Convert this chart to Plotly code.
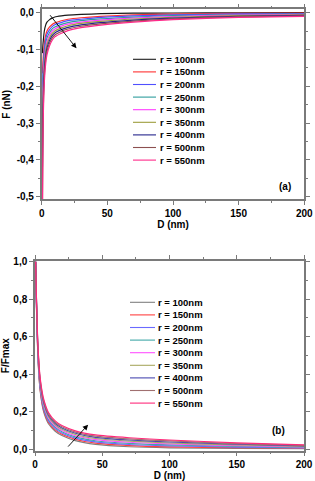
import plotly.graph_objects as go

# ---------------- data ----------------
D = [0.5, 1, 2, 3, 4, 6, 8, 10, 15, 20, 30, 45, 70, 100, 150, 200]

labels = ["r = 100nm", "r = 150nm", "r = 200nm", "r = 250nm", "r = 300nm",
          "r = 350nm", "r = 400nm", "r = 500nm", "r = 550nm"]

# panel (a): F (nN)
F_100 = [-0.11, -0.085, -0.05, -0.034, -0.026, -0.019, -0.015, -0.012, -0.009, -0.007, -0.005, -0.003, -0.0015, -0.001, -0.0004, -0.0001]
F_150 = [-0.165, -0.13, -0.085, -0.062, -0.050, -0.039, -0.032, -0.028, -0.022, -0.018, -0.014, -0.010, -0.006, -0.004, -0.002, -0.0012]
F_200 = [-0.22, -0.16, -0.100, -0.073, -0.059, -0.046, -0.038, -0.033, -0.027, -0.022, -0.018, -0.013, -0.009, -0.006, -0.0036, -0.0025]
F_250 = [-0.275, -0.187, -0.115, -0.084, -0.069, -0.054, -0.044, -0.039, -0.032, -0.027, -0.022, -0.017, -0.012, -0.0083, -0.0051, -0.0037]
F_300 = [-0.33, -0.216, -0.130, -0.0955, -0.078, -0.061, -0.0505, -0.0443, -0.0366, -0.0313, -0.0256, -0.0203, -0.0146, -0.0105, -0.0067, -0.005]
F_350 = [-0.385, -0.244, -0.145, -0.1065, -0.087, -0.068, -0.0565, -0.0497, -0.0414, -0.0357, -0.0294, -0.0237, -0.0174, -0.0126, -0.0083, -0.0062]
F_400 = [-0.44, -0.273, -0.160, -0.1177, -0.0964, -0.0754, -0.0627, -0.0551, -0.0463, -0.0401, -0.0333, -0.0271, -0.0203, -0.0147, -0.0099, -0.0075]
F_500 = [-0.55, -0.301, -0.175, -0.1288, -0.1057, -0.0827, -0.0688, -0.0606, -0.0511, -0.0446, -0.0371, -0.0306, -0.0231, -0.0169, -0.0114, -0.0087]
F_550 = [-0.60, -0.33, -0.19, -0.14, -0.115, -0.090, -0.075, -0.066, -0.056, -0.049, -0.041, -0.034, -0.026, -0.019, -0.013, -0.010]

# panel (b): F/Fmax
N_100 = [1.0, 0.78, 0.52, 0.38, 0.30, 0.21, 0.165, 0.135, 0.095, 0.072, 0.045, 0.025, 0.012, 0.006, 0.003, 0.0015]
N_150 = [1.0, 0.786, 0.528, 0.389, 0.309, 0.219, 0.173, 0.143, 0.102, 0.079, 0.052, 0.031, 0.018, 0.011, 0.007, 0.004]
N_200 = [1.0, 0.793, 0.535, 0.398, 0.318, 0.228, 0.181, 0.150, 0.109, 0.085, 0.058, 0.038, 0.024, 0.017, 0.0105, 0.0066]
N_250 = [1.0, 0.799, 0.543, 0.406, 0.326, 0.236, 0.189, 0.158, 0.116, 0.092, 0.0645, 0.044, 0.030, 0.022, 0.014, 0.0092]
N_300 = [1.0, 0.805, 0.55, 0.415, 0.335, 0.245, 0.198, 0.165, 0.1225, 0.0985, 0.071, 0.050, 0.036, 0.027, 0.018, 0.0118]
N_350 = [1.0, 0.811, 0.558, 0.424, 0.344, 0.254, 0.206, 0.173, 0.129, 0.105, 0.0775, 0.056, 0.042, 0.032, 0.0218, 0.0143]
N_400 = [1.0, 0.818, 0.565, 0.4325, 0.3525, 0.2625, 0.214, 0.18, 0.136, 0.112, 0.084, 0.0625, 0.048, 0.0375, 0.0255, 0.0169]
N_500 = [1.0, 0.824, 0.5725, 0.441, 0.361, 0.271, 0.222, 0.1875, 0.143, 0.1184, 0.0905, 0.069, 0.054, 0.043, 0.029, 0.0194]
N_550 = [1.0, 0.83, 0.58, 0.45, 0.37, 0.28, 0.23, 0.195, 0.15, 0.125, 0.097, 0.075, 0.060, 0.048, 0.033, 0.022]

x_ticks = [0, 50, 100, 150, 200]
x_ticklabels = ["0", "50", "100", "150", "200"]
y1_ticks = [0.0, -0.1, -0.2, -0.3, -0.4, -0.5]
y1_ticklabels = ["0,0", "-0,1", "-0,2", "-0,3", "-0,4", "-0,5"]
y2_ticks = [0.0, 0.2, 0.4, 0.6, 0.8, 1.0]
y2_ticklabels = ["0,0", "0,2", "0,4", "0,6", "0,8", "1,0"]

# ---------------- styling ----------------
W, H = 315, 481
FONT = "Liberation Sans, Arial, sans-serif"
colors_a = ["#1a1a1a", "#ff3030", "#5050ff", "#2e9c9c", "#ff3cff",
            "#9c9c3c", "#24248c", "#8c5050", "#ff2a8a"]
colors_b = ["#808080", "#ff4040", "#6a6aff", "#40a8a8", "#ff50ff",
            "#a8a860", "#4848b0", "#a07070", "#ff2a7a"]

def px(x):
    return x / W

def py(y):
    return 1 - y / H

series_a = [F_100, F_150, F_200, F_250, F_300, F_350, F_400, F_500, F_550]
series_b = [N_100, N_150, N_200, N_250, N_300, N_350, N_400, N_500, N_550]

fig = go.Figure()
for s, c in zip(series_a, colors_a):
    fig.add_trace(go.Scatter(x=D, y=s, mode="lines", line=dict(color=c, width=1.2, shape="spline", smoothing=0.6),
                             xaxis="x", yaxis="y", showlegend=False))
for s, c in zip(series_b, colors_b):
    fig.add_trace(go.Scatter(x=D, y=s, mode="lines", line=dict(color=c, width=1.2, shape="spline", smoothing=0.6),
                             xaxis="x2", yaxis="y2", showlegend=False))

tickfont = dict(family=FONT, size=10, color="black", weight="bold")
titlefont = dict(family=FONT, size=10, color="black", weight="bold")
frame = dict(showline=True, linecolor="#7a7a7a", linewidth=1.5, mirror="ticks",
             ticks="outside", ticklen=4, tickwidth=1, tickcolor="#7a7a7a",
             showgrid=False, zeroline=False, automargin=False, tickfont=tickfont)

fig.update_layout(
    width=W, height=H,
    margin=dict(l=0, r=0, t=0, b=0),
    paper_bgcolor="white", plot_bgcolor="white",
    showlegend=False,
    xaxis=dict(domain=[px(41.7), px(304.3)], range=[0, 200], anchor="y",
               tickvals=x_ticks, ticktext=x_ticklabels,
               minor=dict(ticks="outside", ticklen=2, tickcolor="#7a7a7a", dtick=25, tick0=0),
               title=dict(text="D (nm)", font=titlefont, standoff=2), **frame),
    yaxis=dict(domain=[py(199.3), py(9.3)], range=[-0.507, 0.009], anchor="x",
               tickvals=y1_ticks, ticktext=y1_ticklabels,
               minor=dict(ticks="outside", ticklen=2, tickcolor="#7a7a7a", dtick=0.05, tick0=0),
               title=dict(text="F (nN)", font=titlefont, standoff=4), **frame),
    xaxis2=dict(domain=[px(35), px(304)], range=[0, 200], anchor="y2",
                tickvals=x_ticks, ticktext=x_ticklabels,
                minor=dict(ticks="outside", ticklen=2, tickcolor="#7a7a7a", dtick=25, tick0=0),
                title=dict(text="D (nm)", font=titlefont, standoff=2), **frame),
    yaxis2=dict(domain=[py(450.7), py(260.7)], range=[-0.009, 1.005], anchor="x2",
                tickvals=y2_ticks, ticktext=y2_ticklabels,
                minor=dict(ticks="outside", ticklen=2, tickcolor="#7a7a7a", dtick=0.1, tick0=0),
                title=dict(text="F/Fmax", font=titlefont, standoff=4), **frame),
)

# manual legends (compact, as in the reference)
legfont = dict(family=FONT, size=9.5, color="black", weight="bold")
def add_legend(colors, y0, x_line0, x_line1, x_text, step=12.6):
    for i, (lab, c) in enumerate(zip(labels, colors)):
        yy = y0 + i * step
        fig.add_shape(type="line", xref="paper", yref="paper",
                      x0=px(x_line0), x1=px(x_line1), y0=py(yy), y1=py(yy),
                      line=dict(color=c, width=1.1))
        fig.add_annotation(xref="paper", yref="paper", x=px(x_text), y=py(yy),
                           text=lab, showarrow=False, xanchor="left", yanchor="middle",
                           font=legfont)

add_legend(colors_a, 59.3, 133, 156, 158)
add_legend(colors_b, 302.3, 130, 155, 156)

# panel letters
fig.add_annotation(xref="x", yref="y", x=185.3, y=-0.4736, text="(a)", showarrow=False,
                   font=titlefont)
fig.add_annotation(xref="x2", yref="y2", x=180.7, y=0.101, text="(b)", showarrow=False,
                   font=titlefont)

# arrows
fig.add_annotation(xref="x", yref="y", axref="x", ayref="y",
                   x=26.5, y=-0.097, ax=5.5, ay=-0.003, text="", showarrow=True,
                   arrowhead=2, arrowsize=1.2, arrowwidth=0.9, arrowcolor="black")
fig.add_annotation(xref="x2", yref="y2", axref="x2", ayref="y2",
                   x=39.5, y=0.13, ax=23.6, ay=0.005, text="", showarrow=True,
                   arrowhead=2, arrowsize=1.2, arrowwidth=0.9, arrowcolor="black")

fig.write_html("out.html")
